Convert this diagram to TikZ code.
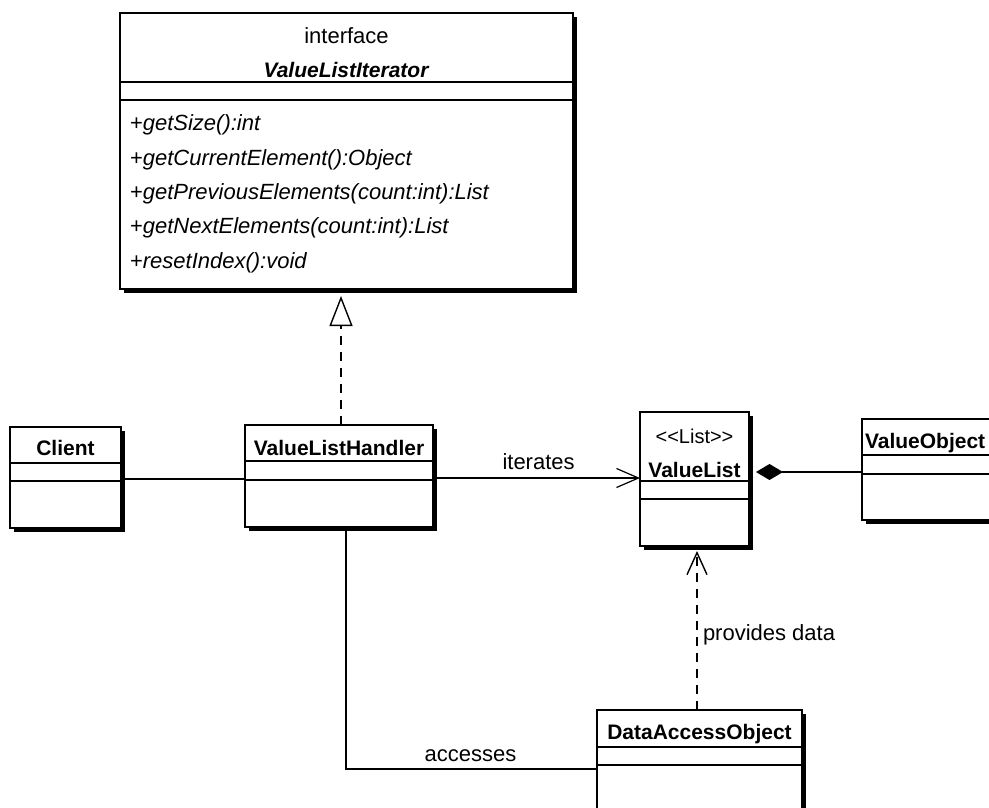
\documentclass[tikz,border=0pt]{standalone}
\usepackage{fontspec}
\setmainfont{Liberation Sans}
\usetikzlibrary{arrows.meta,shadows}
\begin{document}
\begin{tikzpicture}[x=1pt,y=-1pt,
  every node/.style={font=\fontsize{22}{26}\selectfont, inner sep=0pt, outer sep=0pt},
  classbox/.style={draw, fill=white, line width=1.6pt, rectangle, anchor=north west,
    drop shadow={shadow xshift=4pt, shadow yshift=-4pt, opacity=1, fill=black}},
  divider/.style={line width=1.4pt},
  txt/.style={anchor=base},
  txtl/.style={anchor=base west},
  bold/.style={font=\fontsize{21}{25}\selectfont\bfseries},
  conn/.style={line width=1.2pt},
  thickconn/.style={line width=1.8pt},
  dashconn/.style={line width=1.6pt, dash pattern=on 9pt off 7pt}
]
\useasboundingbox (0,0) rectangle (989,807);

% helper coordinates
\coordinate (rx) at (341,0);
\coordinate (px) at (697,0);
\coordinate (ax) at (346,0);
\coordinate (y479) at (0,479);
\coordinate (y478) at (0,478);
\coordinate (y472) at (0,472);
\coordinate (y769) at (0,769);

% boxes
\node[classbox, minimum width=453pt, minimum height=276pt] (iface) at (120,13) {};
\node[classbox, minimum width=111pt, minimum height=101pt] (client) at (10,427) {};
\node[classbox, minimum width=188pt, minimum height=102pt] (vlh) at (245,425) {};
\node[classbox, minimum width=109pt, minimum height=134pt] (vlist) at (640,412) {};
\node[classbox, minimum width=131pt, minimum height=101pt] (vobj) at (862,419) {};
\node[classbox, minimum width=205pt, minimum height=130pt] (dao) at (597,710) {};

% dividers
\foreach \n/\a/\b in {iface/82/100, client/463/481, vlh/461/480, vlist/481/499, vobj/455/474, dao/747/765}{
  \draw[divider] (\n.west |- 0,\a) -- (\n.east |- 0,\a);
  \draw[divider] (\n.west |- 0,\b) -- (\n.east |- 0,\b);
}

% texts
\node[txt] (ifst) at (346.5,43) {interface};
\node[txt, bold] (ifname) at (346.5,77) {\textit{ValueListIterator}};
\node[txtl] (m1) at (130,130.5) {+\textit{getSize():int}};
\node[txtl] (m2) at (130,165) {+\textit{getCurrentElement():Object}};
\node[txtl] (m3) at (130,199) {+\textit{getPreviousElements(count:int):List}};
\node[txtl] (m4) at (130,233.5) {+\textit{getNextElements(count:int):List}};
\node[txtl] (m5) at (130,268) {+\textit{resetIndex():void}};
\node[txt, bold] (clientname) at (65.5,455) {Client};
\node[txt, bold] (vlhname) at (339,455) {ValueListHandler};
\node[txt, font=\fontsize{20}{24}\selectfont] (vlst) at (694.5,443) {<\kern0pt<List>\kern0pt>};
\node[txt, bold] (vlname) at (694.5,477) {ValueList};
\node[txtl, bold] (voname) at (865,448) {ValueObject};
\node[txt, bold] (daoname) at (699.5,739) {DataAccessObject};

% connectors
\draw[thickconn] (client.east |- y479) -- (vlh.west |- y479);
\draw[conn, -{Straight Barb[length=22pt,width=19pt]}] (vlh.east |- y478) -- (vlist.west |- y478)
  node[pos=0.51, above=9pt, anchor=base] (itlab) {iterates};
\draw[conn, {Diamond[length=27pt,width=16pt,fill=black]}-, shorten <=7pt] (vlist.east |- y472) -- (vobj.west |- y472);
\draw[dashconn, -{Triangle[open,length=30pt,width=23pt,line width=1.4pt]}, shorten >=7pt] (vlh.north -| rx) -- (iface.south -| rx);
\draw[dashconn, -{Straight Barb[length=22pt,width=20pt,line width=1.4pt]}, shorten >=5pt] (dao.north -| px) -- (vlist.south -| px);
\node[txtl] (pdlab) at (703,640) {provides data};
\draw[conn] (vlh.south -| ax) |- (dao.west |- y769);
\node[txt] (aclab) at (470.5,761) {accesses};
\end{tikzpicture}
\end{document}
